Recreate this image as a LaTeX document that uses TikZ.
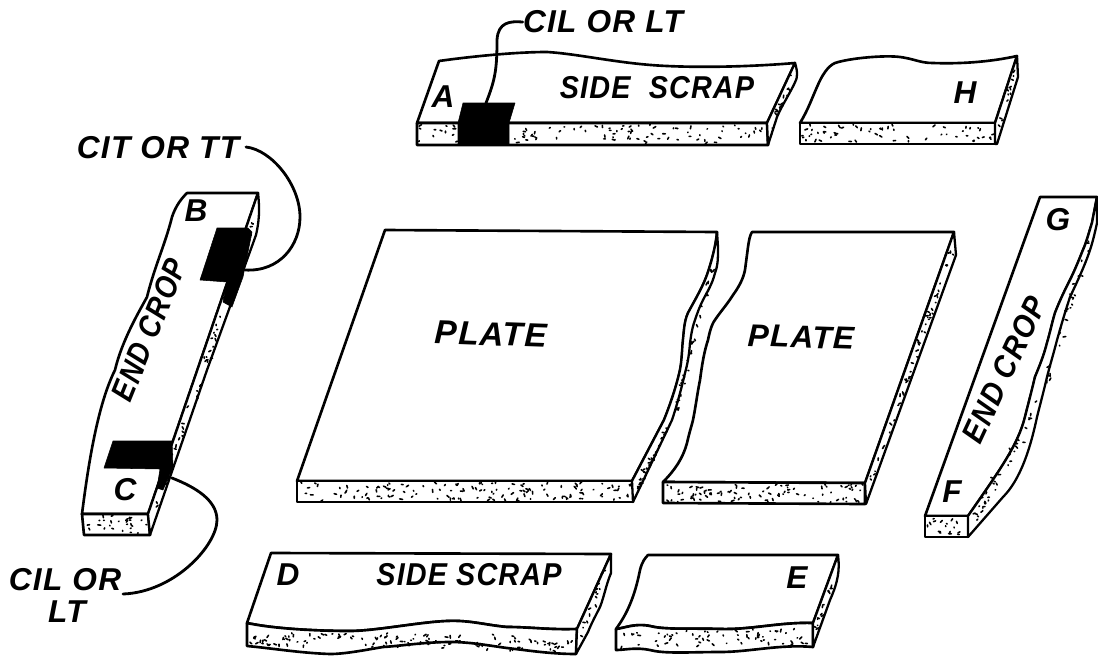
\documentclass[tikz,border=0pt]{standalone}
\usepackage{fontspec}
\setmainfont[LetterSpace=4]{Liberation Sans}
\usetikzlibrary{calc}
\newcommand\speck[6]{%
  \pgfmathsetseed{#1}%
  \foreach \i in {1,...,#2}{%
    \pgfmathsetmacro\uu{rnd}\pgfmathsetmacro\vv{rnd}\pgfmathsetmacro\aa{rnd*360}\pgfmathsetmacro\ll{.5+2.5*rnd}%
    \draw[speckle] ($($#3!\uu!#4$)!\vv!($#6!\uu!#5$)$) -- ++(\aa:\ll);%
  }%
}
\tikzset{
  x=0.02cm,y=-0.02cm,
  edge/.style={line width=1.3pt,line join=round,fill=white},
  face/.style={line width=1.5pt,line join=round,fill=white},
  blk/.style={fill=black,draw=black,line width=.3pt,line join=round},
  speckle/.style={line width=.9pt,black,line cap=round},
  lab/.style={font=\fontsize{18}{18}\selectfont\itshape\bfseries,inner sep=0pt},
  big/.style={font=\fontsize{19}{19}\selectfont\itshape\bfseries,inner sep=0pt},
  leader/.style={line width=1.6pt,line cap=round}
}
\begin{document}
\begin{tikzpicture}
\useasboundingbox (0,0) rectangle (1098,656);

% Side scrap A
\draw[face] (417,123) -- (439,61) .. controls (460,58) and (510,52) .. (547,52) .. controls (580,54) and (620,64) .. (667,66) .. controls (710,68) and (760,66) .. (795,63) -- (767,123) -- cycle;
\draw[face] (417,123) -- (767,123) -- (768,145) -- (417,145) -- cycle;
\draw[edge] (795,63) .. controls (798,72) and (797,78) .. (796,80) .. controls (792,90) and (782,105) .. (777,117) -- (768,145) -- (767,123) -- cycle;
\speck{11}{100}{(419,125)}{(765,125)}{(765,143)}{(419,143)}
\speck{12}{14}{(770,122)}{(792,72)}{(790,88)}{(771,136)}
\fill[blk] (463,103) -- (515,103) -- (509,123) -- (509,145) -- (458,145) -- (458,123) -- cycle;
\coordinate (blocka) at (486,103);

% Side scrap H
\draw[face] (800,123) .. controls (808,110) and (812,98) .. (817,87) .. controls (822,75) and (828,66) .. (835,63) .. controls (850,58) and (885,55) .. (900,57) .. controls (915,59) and (920,63) .. (933,63) .. controls (960,64) and (990,62) .. (1017,56) -- (995,123) -- cycle;
\draw[face] (800,123) -- (995,123) -- (995,144) -- (800,144) -- cycle;
\draw[edge] (1017,56) -- (1018,77) -- (997,144) -- (995,144) -- (995,123) -- cycle;
\speck{13}{60}{(802,125)}{(993,125)}{(993,142)}{(802,142)}
\speck{14}{12}{(998,122)}{(1015,68)}{(1015,80)}{(998,136)}

% Left end crop
\draw[face] (82,514) .. controls (90,450) and (100,400) .. (115,370) .. controls (122,340) and (140,310) .. (147,297) .. controls (155,265) and (165,245) .. (172,217) .. controls (176,205) and (182,198) .. (187,193) -- (258,193) -- (148,514) -- cycle;
\draw[face] (82,514) -- (148,514) -- (150,535) -- (84,535) -- cycle;
\draw[edge] (258,193) .. controls (260,210) and (259,222) .. (256,235) -- (207,370) -- (150,535) -- (148,514) -- cycle;
\speck{15}{26}{(85,516)}{(146,516)}{(148,533)}{(87,533)}
\speck{16}{60}{(154,505)}{(256,205)}{(253,235)}{(154,522)}
\fill[blk] (217,228) -- (248,228) -- (252,232) -- (243,277) -- (232,307) -- (223,302) -- (227,282) -- (200,280) -- cycle;
\fill[blk] (113,441) -- (172,441) -- (173,467) -- (163,490) -- (157,488) -- (160,469) -- (104,468) -- cycle;
\coordinate (blockb) at (245,270);
\coordinate (blockc) at (172,478);

% Left plate
\draw[face] (297,481) -- (385,230) -- (717,232) .. controls (716,245) and (712,260) .. (708,272) .. controls (704,285) and (695,300) .. (688,313) .. controls (684,322) and (684,332) .. (683,340) .. controls (682,350) and (682,360) .. (680,370) .. controls (676,388) and (670,405) .. (664,420) -- (632,481) -- cycle;
\draw[face] (297,481) -- (633,481) -- (633,502) -- (297,502) -- cycle;
\draw[edge] (717,232) -- (718,247) .. controls (718,258) and (718,265) .. (715,273) .. controls (712,285) and (707,292) .. (703,300) .. controls (699,308) and (697,314) .. (695,320) .. controls (692,328) and (691,336) .. (690,343) .. controls (689,355) and (688,362) .. (685,373) .. controls (681,390) and (677,405) .. (672,420) -- (633,502) -- (632,481) -- (664,420) .. controls (670,405) and (676,388) .. (680,370) .. controls (682,360) and (682,350) .. (683,340) .. controls (684,332) and (684,322) .. (688,313) .. controls (695,300) and (704,285) .. (708,272) .. controls (712,260) and (716,245) .. (717,232) -- cycle;
\speck{17}{130}{(299,483)}{(631,483)}{(631,500)}{(299,500)}
\speck{18}{34}{(637,483)}{(668,425)}{(668,428)}{(637,495)}
\speck{28}{34}{(672,412)}{(712,265)}{(713,270)}{(678,412)}

% Right plate
\draw[face] (663,482) .. controls (675,470) and (683,458) .. (687,443) .. controls (690,430) and (691,428) .. (693,420) .. controls (696,405) and (697,395) .. (700,380) .. controls (702,365) and (704,352) .. (708,340) .. controls (710,330) and (712,323) .. (717,317) .. controls (722,310) and (728,303) .. (733,295) .. controls (738,288) and (743,280) .. (745,270) .. controls (746,262) and (747,255) .. (748,247) .. controls (749,240) and (750,235) .. (752,232) -- (954,232) -- (865,483) -- cycle;
\draw[face] (663,482) -- (865,483) -- (865,504) -- (663,503) -- cycle;
\draw[edge] (954,232) -- (956,255) -- (866,504) -- (865,483) -- cycle;
\speck{19}{90}{(665,485)}{(863,485)}{(863,502)}{(665,502)}
\speck{20}{50}{(868,483)}{(952,247)}{(953,255)}{(868,497)}

% Right end crop
\draw[face] (925,516) -- (1040,197) -- (1097,197) -- (1092,223) .. controls (1089,232) and (1087,241) .. (1083,250) .. controls (1079,260) and (1075,270) .. (1070,280) .. controls (1065,290) and (1060,300) .. (1055,313) .. controls (1052,323) and (1050,333) .. (1047,343) .. controls (1044,355) and (1040,365) .. (1035,377) .. controls (1032,390) and (1028,405) .. (1025,417) .. controls (1018,445) and (1000,470) .. (968,516) -- cycle;
\draw[face] (925,516) -- (968,516) -- (968,537) -- (925,537) -- cycle;
\draw[edge] (1097,197) -- (1097,223) .. controls (1095,232) and (1093,241) .. (1090,250) .. controls (1085,265) and (1078,280) .. (1070,297) .. controls (1065,312) and (1061,326) .. (1057,340) .. controls (1054,352) and (1050,365) .. (1047,377) .. controls (1044,390) and (1040,405) .. (1037,417) .. controls (1030,450) and (1020,480) .. (1003,497) -- (968,537) -- (968,516) .. controls (1000,470) and (1018,445) .. (1025,417) .. controls (1028,405) and (1032,390) .. (1035,377) .. controls (1040,365) and (1044,355) .. (1047,343) .. controls (1050,333) and (1052,323) .. (1055,313) .. controls (1060,300) and (1065,290) .. (1070,280) .. controls (1075,270) and (1079,260) .. (1083,250) .. controls (1087,241) and (1089,232) .. (1092,223) -- cycle;
\speck{21}{16}{(927,518)}{(966,518)}{(966,535)}{(927,535)}
\speck{22}{36}{(975,512)}{(1030,410)}{(1036,420)}{(975,526)}
\speck{29}{28}{(1033,405)}{(1090,235)}{(1093,240)}{(1042,405)}

% Side scrap D
\draw[face] (247,623) -- (271,553) -- (611,554) -- (577,629) .. controls (550,630) and (530,627) .. (507,627) .. controls (485,625) and (470,620) .. (447,621) .. controls (420,622) and (375,631) .. (350,631) .. controls (330,631) and (280,630) .. (247,623) -- cycle;
\draw[face] (247,623) .. controls (280,630) and (330,631) .. (350,631) .. controls (375,631) and (420,622) .. (447,621) .. controls (470,620) and (485,625) .. (507,627) .. controls (530,627) and (550,630) .. (577,629) -- (576,654) .. controls (550,654) and (525,650) .. (507,648) .. controls (485,645) and (470,642) .. (450,642) .. controls (425,642) and (400,646) .. (383,647) .. controls (365,650) and (345,654) .. (330,654) .. controls (300,653) and (270,648) .. (247,646) -- cycle;
\draw[edge] (611,554) -- (611,573) .. controls (606,585) and (604,597) .. (600,607) .. controls (596,615) and (592,622) .. (588,632) -- (576,654) -- (577,629) -- cycle;
\speck{23}{120}{(250,632)}{(574,636)}{(574,651)}{(250,645)}
\speck{24}{16}{(582,625)}{(606,565)}{(600,595)}{(582,640)}

% Side scrap E
\draw[face] (616,629) .. controls (630,610) and (636,590) .. (640,570) .. controls (642,562) and (645,558) .. (648,555) -- (838,555) -- (813,623) .. controls (780,622) and (750,630) .. (720,629) .. controls (690,628) and (665,630) .. (650,626) .. controls (635,623) and (625,628) .. (616,629) -- cycle;
\draw[face] (616,629) .. controls (625,628) and (635,623) .. (650,626) .. controls (665,630) and (690,628) .. (720,629) .. controls (750,630) and (780,622) .. (813,623) -- (813,647) .. controls (780,644) and (750,652) .. (720,652) .. controls (690,652) and (665,654) .. (650,650) .. controls (635,647) and (625,650) .. (616,650) -- cycle;
\draw[edge] (838,555) .. controls (840,570) and (838,582) .. (830,600) -- (813,647) -- (813,623) -- cycle;
\speck{25}{65}{(619,632)}{(811,627)}{(811,645)}{(619,648)}
\speck{26}{14}{(816,622)}{(834,572)}{(830,596)}{(816,638)}

% Labels
\node[lab] (tcila) at (603,22) {CIL OR LT};
\node[lab,xscale=.91] (tsidea) at (657,88) {SIDE\ \ SCRAP};
\node[lab] (la) at (443,97) {A};
\node[lab] (lh) at (965,93) {H};
\node[lab] (tcit) at (158,148) {CIT OR TT};
\node[lab] (lb) at (196,211) {B};
\node[lab] (lc) at (125,490) {C};
\node[lab,rotate=68,xscale=.86] (tendl) at (149,330) {END CROP};
\node[lab,rotate=65,xscale=.9] (tendr) at (1004,370) {END CROP};
\node[lab] (lg) at (1058,220) {G};
\node[lab] (lf) at (952,492) {F};
\node[big,rotate=-2] (pl) at (491,334) {PLATE};
\node[lab,rotate=-2] (pr) at (801,337) {PLATE};
\node[lab] (ld) at (288,575) {D};
\node[lab,xscale=.91] (tsided) at (469,575) {SIDE SCRAP};
\node[lab] (le) at (797,578) {E};
\node[lab] (tcilc) at (65,580) {CIL OR};
\node[lab] (tltc) at (67,612) {LT};
\coordinate (leadb) at (246,147);
\coordinate (leadc) at (123,594);

% Leaders
\draw[leader] (tcila.west) .. controls (510,21) and (498,22) .. (497,40) .. controls (497,70) and (495,80) .. (blocka);
\draw[leader] (leadb) .. controls (272,150) and (300,185) .. (300,217) .. controls (300,245) and (280,272) .. (blockb);
\draw[leader] (blockc) .. controls (195,487) and (217,500) .. (217,520) .. controls (217,545) and (175,592) .. (leadc);
\end{tikzpicture}
\end{document}
